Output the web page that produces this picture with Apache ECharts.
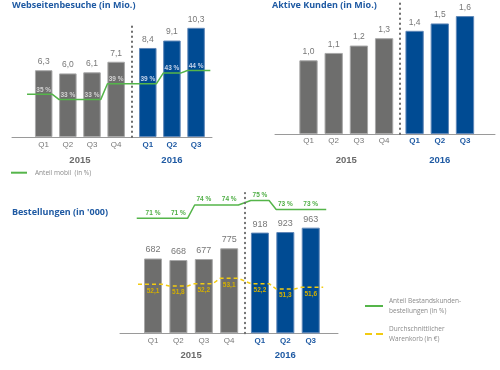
<!DOCTYPE html>
<html><head><meta charset="utf-8">
<script src="https://cdn.jsdelivr.net/npm/echarts@6/dist/echarts.min.js"></script>
<style>html,body{margin:0;padding:0;background:#fff}#c{width:500px;height:370px}</style>
</head><body><div id="c"></div><script>
// ---------- data ----------
const quarters = ['Q1','Q2','Q3','Q4','Q1','Q2','Q3'];
const years = ['2015','2016'];
const quartersPerYear = [4, 3];
const visits = [6.3, 6.0, 6.1, 7.1, 8.4, 9.1, 10.3];          // Mio.
const mobileShare = [35, 33, 33, 39, 39, 43, 44];              // %
const activeCustomers = [1.0, 1.1, 1.2, 1.3, 1.4, 1.5, 1.6];   // Mio.
const orders = [682, 668, 677, 775, 918, 923, 963];            // '000
const returningShare = [71, 71, 74, 74, 75, 73, 73];           // %
const avgBasket = [52.1, 51.8, 52.2, 53.1, 52.2, 51.3, 51.6];  // €
const titles = ['Webseitenbesuche (in Mio.)', 'Aktive Kunden (in Mio.)', "Bestellungen (in '000)"];
const legendMobile = 'Anteil mobil  (in %)';
const legendReturning = 'Anteil Bestandskunden-\nbestellungen (in %)';
const legendBasket = 'Durchschnittlicher\nWarenkorb (in €)';

// ---------- styles ----------
const GRAY = '#6e6e6d', GRAY_EDGE = '#a8a8a8', BLUE = '#004b93', BLUE_EDGE = '#5f87b8';
const TITLE = '#1f5aa3', GREEN = '#55b54a', YELLOW = '#f2cb12', YELLOW_TXT = '#d4b000';
const LABEL = '#777', AXIS = '#9a9a9a';
const FONT = '"Liberation Sans", Arial, sans-serif';
const TFONT = '"Open Sans", sans-serif';

const yearIdx = [];
quartersPerYear.forEach((n, y) => { for (let i = 0; i < n; i++) yearIdx.push(y); });
const fmt1 = v => v.toFixed(1).replace('.', ',');

const option = {
  animation: false,
  title: [], legend: [], grid: [], xAxis: [], yAxis: [], series: []
};

function axisRange(anchorVal, anchorPx, pxPerUnit, bottomPx, topPx) {
  return { min: anchorVal - (bottomPx - anchorPx) / pxPerUnit, max: anchorVal + (anchorPx - topPx) / pxPerUnit };
}

function stepData(vals, pos, hw, extL, extR, labelFor) {
  const d = [];
  vals.forEach((v, i) => {
    d.push([pos[i] - (i === 0 ? extL : hw), v]);
    d.push({ value: [pos[i], v], label: Object.assign({ show: true }, labelFor(i)) });
    d.push([pos[i] + (i === vals.length - 1 ? extR : hw), v]);
  });
  return d;
}

function panel(L, values, valFmt) {
  const g = option.grid.length;
  option.grid.push({ left: L.left, top: L.top, width: L.right - L.left, height: L.baseline - L.top });
  const pos = quarters.map((q, i) => i + (yearIdx[i] > 0 ? L.gap : 0));
  const xmin = (L.left - L.q1x) / L.step, xmax = (L.right - L.q1x) / L.step;
  const yearCenters = years.map((y, k) => {
    const p = pos.filter((_, i) => yearIdx[i] === k);
    return p.reduce((a, b) => a + b, 0) / p.length;
  });
  const xq = option.xAxis.length;
  option.xAxis.push({
    gridIndex: g, type: 'value', min: xmin, max: xmax,
    axisLine: { show: true, onZero: false, lineStyle: { color: AXIS, width: 1 } },
    axisTick: { show: false }, splitLine: { show: false },
    axisLabel: {
      customValues: pos, margin: L.qMargin,
      formatter: v => { const i = pos.findIndex(p => Math.abs(p - v) < 1e-6); return i < 0 ? '' : (yearIdx[i] ? '{b|' : '{a|') + quarters[i] + '}'; },
      rich: {
        a: { color: LABEL, fontSize: 8, fontFamily: FONT },
        b: { color: TITLE, fontSize: 8, fontFamily: FONT, fontWeight: 'bold' }
      }
    }
  });
  option.xAxis.push({
    gridIndex: g, type: 'value', min: xmin, max: xmax, position: 'bottom', offset: L.yearOffset,
    axisLine: { show: false }, axisTick: { show: false }, splitLine: { show: false },
    axisLabel: {
      customValues: yearCenters, margin: L.yearMargin,
      formatter: v => { const k = yearCenters.findIndex(p => Math.abs(p - v) < 1e-6); return k < 0 ? '' : (k ? '{b|' : '{a|') + years[k] + '}'; },
      rich: {
        a: { color: '#6a6a6a', fontSize: 9.5, fontWeight: 'bold', fontFamily: FONT },
        b: { color: TITLE, fontSize: 9.5, fontWeight: 'bold', fontFamily: FONT }
      }
    }
  });
  const yb = option.yAxis.length;
  option.yAxis.push({ gridIndex: g, type: 'value', min: 0, max: (L.baseline - L.top) / L.pxPerUnit, show: false });
  const divX = (pos[quartersPerYear[0] - 1] + pos[quartersPerYear[0]]) / 2;
  option.series.push({
    type: 'bar', xAxisIndex: xq, yAxisIndex: yb, barWidth: L.barW,
    data: values.map((v, i) => ({
      value: [pos[i], v],
      itemStyle: { color: yearIdx[i] ? BLUE : GRAY, borderColor: yearIdx[i] ? BLUE_EDGE : GRAY_EDGE, borderWidth: 1 }
    })),
    label: { show: true, position: 'top', distance: 4, color: LABEL, fontSize: L.valFont, fontFamily: FONT, formatter: p => valFmt(p.value[1]) },
    markLine: {
      silent: true, symbol: 'none', label: { show: false },
      lineStyle: { color: '#6a6a6a', type: [0.5, 4.5], width: 2, cap: 'round' },
      data: [[{ coord: [divX, 0] }, { coord: [divX, (L.baseline - L.divTop) / L.pxPerUnit] }]]
    },
    z: 2
  });
  return { g, pos, xq };
}

// ---------- panel 1: Webseitenbesuche ----------
const L1 = { left: 12, right: 212, baseline: 137, top: 9.8, pxPerUnit: 10.6, q1x: 43.7, step: 24.15, gap: 0.31, barW: 17.5,
  qMargin: 4, yearOffset: 14, yearMargin: 4, valFont: 8.5, divTop: 25 };
const p1 = panel(L1, visits, fmt1);
const r1 = axisRange(35, 94.3, 2.65, L1.baseline, L1.top);
option.yAxis.push({ gridIndex: p1.g, type: 'value', min: r1.min, max: r1.max, show: false });
option.series.push({
  type: 'line', name: legendMobile, xAxisIndex: p1.xq, yAxisIndex: option.yAxis.length - 1,
  data: stepData(mobileShare, p1.pos, 0.36, 0.69, 0.59, i => ({ color: yearIdx[i] ? '#c6d4ea' : '#d2d2d2' })),
  symbol: 'circle', symbolSize: 0, color: GREEN, lineStyle: { color: GREEN, width: 1.5 },
  label: { show: false, position: 'top', distance: 1, fontSize: 6.5, fontWeight: 'bold', fontFamily: FONT, formatter: p => p.value[1] + ' %' },
  z: 3
});

// ---------- panel 2: Aktive Kunden ----------
const L2 = { left: 275, right: 495, baseline: 134, top: 0, pxPerUnit: 73.7, q1x: 308.5, step: 25.2, gap: 0.21, barW: 18.3,
  qMargin: 3, yearOffset: 17, yearMargin: 4, valFont: 8.5, divTop: 0 };
panel(L2, activeCustomers, fmt1);

// ---------- panel 3: Bestellungen ----------
const L3 = { left: 120, right: 338, baseline: 333.3, top: 190.7, pxPerUnit: 0.1097, q1x: 153, step: 25.4, gap: 0.21, barW: 18,
  qMargin: 3, yearOffset: 13, yearMargin: 4, valFont: 9, divTop: 193 };
const p3 = panel(L3, orders, v => String(v));
const r3g = axisRange(71, 218.3, 4.43, L3.baseline, L3.top);
option.yAxis.push({ gridIndex: p3.g, type: 'value', min: r3g.min, max: r3g.max, show: false });
option.series.push({
  type: 'line', name: 'returning', xAxisIndex: p3.xq, yAxisIndex: option.yAxis.length - 1,
  data: stepData(returningShare, p3.pos, 0.36, 0.64, 0.61, () => ({})),
  symbol: 'circle', symbolSize: 0, color: GREEN, lineStyle: { color: GREEN, width: 1.5 },
  label: { show: false, position: 'top', distance: 2, color: '#4fae45', fontSize: 6.5, fontWeight: 'bold', fontFamily: FONT, formatter: p => p.value[1] + ' %' },
  z: 3
});
const r3y = axisRange(53.1, 278.3, 5.94, L3.baseline, L3.top);
option.yAxis.push({ gridIndex: p3.g, type: 'value', min: r3y.min, max: r3y.max, show: false });
option.series.push({
  type: 'line', name: 'basket', xAxisIndex: p3.xq, yAxisIndex: option.yAxis.length - 1,
  data: stepData(avgBasket, p3.pos, 0.36, 0.59, 0.49, () => ({})),
  symbol: 'circle', symbolSize: 0, color: YELLOW, lineStyle: { color: YELLOW, width: 1.5, type: [4, 3] },
  label: { show: false, position: 'bottom', distance: 3, color: YELLOW_TXT, fontSize: 6.5, fontWeight: 'bold', fontFamily: FONT, formatter: p => fmt1(p.value[1]) },
  z: 3
});

// ---------- titles ----------
const titlePos = [[12, 0.5], [272, 0.5], [12, 208]];
titles.forEach((t, i) => option.title.push({
  text: t, left: titlePos[i][0], top: titlePos[i][1], padding: 0,
  textStyle: { fontSize: 9, fontWeight: 'bold', color: TITLE, fontFamily: TFONT }
}));

// ---------- legends ----------
const legText = { fontSize: 6.5, color: '#8a8a8a', fontFamily: TFONT, lineHeight: 9.7 };
option.legend.push({
  left: 11, top: 167.85, padding: 0, itemWidth: 16, itemHeight: 2, selectedMode: false,
  data: [{ name: legendMobile, icon: 'rect' }],
  textStyle: Object.assign({ padding: [0, 0, 0, 3] }, legText)
});
option.legend.push({
  left: 365, top: 306 - 14.55, padding: 0, itemWidth: 18, itemHeight: 2, selectedMode: false,
  data: [{ name: 'returning', icon: 'rect' }], formatter: () => legendReturning,
  textStyle: Object.assign({ padding: [9.7, 0, 0, 1] }, legText)
});
option.legend.push({
  left: 365, top: 334 - 14.55, padding: 0, itemWidth: 18, itemHeight: 2, selectedMode: false,
  data: [{ name: 'basket', icon: 'path://M0,0h7v2h-7zM11,0h7v2h-7z' }], formatter: () => legendBasket,
  textStyle: Object.assign({ padding: [9.7, 0, 0, 1] }, legText)
});

const chart = echarts.init(document.getElementById('c'), null, { renderer: 'canvas' });
chart.setOption(option);
</script></body></html>
